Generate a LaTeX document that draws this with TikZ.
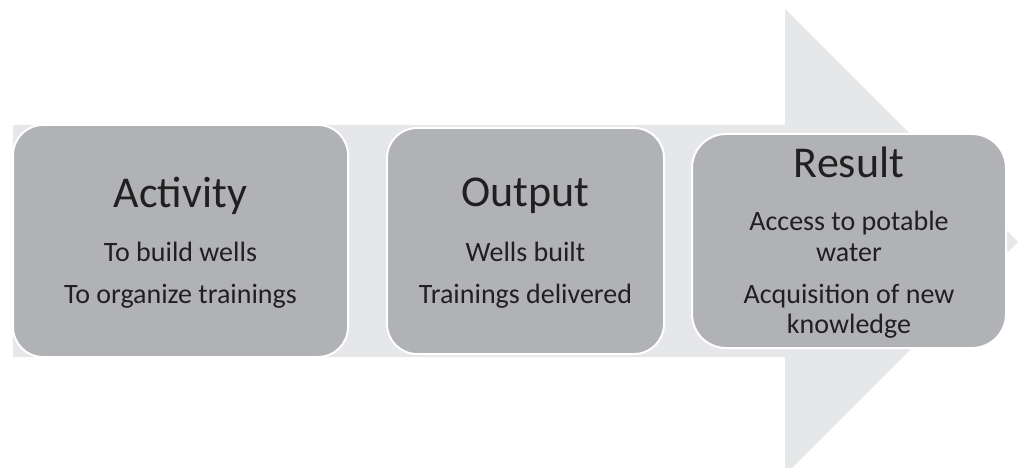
\documentclass[tikz,border=0pt]{standalone}
\usepackage{fontspec}
\setmainfont{Carlito}
\usepackage{tikz}
\usetikzlibrary{positioning}

\definecolor{arrowgray}{HTML}{E6E7E8}
\definecolor{boxgray}{HTML}{B1B2B5}
\definecolor{inkgray}{HTML}{231F20}

\begin{document}
\begin{tikzpicture}[x=1pt, y=-1pt,
		box/.style={draw=white, line width=2pt, fill=boxgray, rounded corners=30pt, inner sep=0pt},
		title/.style={anchor=base, text=inkgray, font=\fontsize{44}{48}\selectfont, inner sep=0pt},
		item/.style={anchor=base, text=inkgray, font=\fontsize{28}{31}\selectfont, inner sep=0pt}]
		\useasboundingbox (0, 0) rectangle (1020, 468);

		% the big arrow behind
		\fill[arrowgray] (13, 125) -- (785, 125) -- (785, 9) -- (1018, 242) -- (785, 475) -- (785, 357) -- (13, 357) -- cycle;

		% the three boxes
		\node[box, minimum width=335pt, minimum height=232pt] (act) at (180.5, 241) {};
		\node[box, minimum width=277pt, minimum height=226pt] (out) at (525.5, 241) {};
		\node[box, minimum width=314pt, minimum height=214pt, rounded corners=34pt] (res) at (849, 241) {};

		% texts
		\node[title] (acttitle) at (180.5, 207) {Activity};
		\node[item] (actwells) at (180.5, 261) {To build wells};
		\node[item] (acttrain) at (180.5, 303) {To organize trainings};

		\node[title] (outtitle) at (525.5, 206) {Output};
		\node[item] (outwells) at (525.5, 261) {Wells built};
		\node[item] (outtrain) at (525.5, 303) {Trainings delivered};

		\node[title] (restitle) at (849, 177) {Result};
		\node[item] (resaccess) at (849, 230) {Access to potable};
		\node[item] (reswater) at (849, 261) {water};
		\node[item] (resacq) at (849, 303) {Acquisition of new};
		\node[item] (resknow) at (849, 333) {knowledge};
	\end{tikzpicture}
\end{document}
